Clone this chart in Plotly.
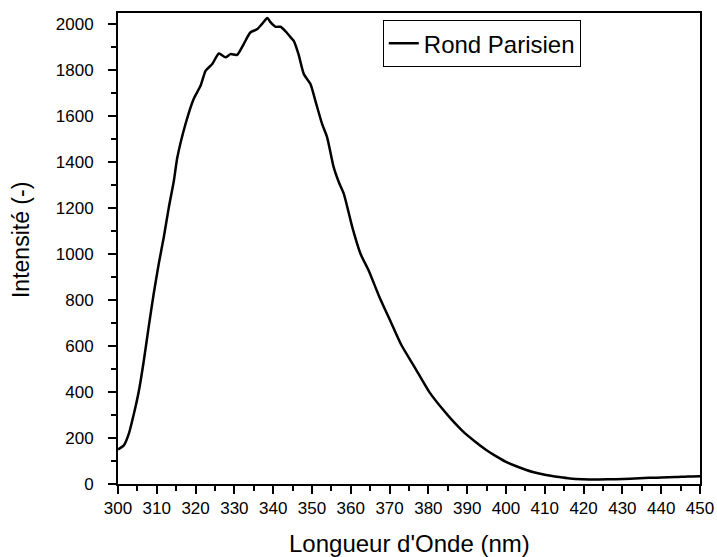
import plotly.graph_objects as go

wavelength = [300, 301.5, 302.8, 304.1, 305.4, 306.6, 307.9, 309.2, 310.5, 311.8, 313.1, 314.4,
              315.3, 317.4, 319.5, 321.3, 322.6, 324.3, 326, 327.7, 329, 330.7, 332.4, 334.1,
              335.9, 337.2, 338.5, 339.3, 340.6, 341.9, 343.2, 344.5, 345.3, 346.5, 347.9, 349.6,
              351, 352.6, 353.9, 355.6, 357, 358.2, 360.4, 362.5, 364.6, 367.4, 370.4, 373,
              376.4, 380.3, 383.7, 386, 388.9, 392, 394.9, 397.5, 400, 403, 406.9, 410,
              413.7, 416.5, 419.7, 424, 428.3, 432, 436.9, 440, 443.7, 447, 450]
intensity = [150, 168, 219, 306, 407, 531, 683, 828, 958, 1074, 1204, 1320,
             1422, 1567, 1676, 1734, 1799, 1828, 1874, 1857, 1871, 1868, 1915, 1965,
             1980, 2004, 2028, 2010, 1990, 1990, 1970, 1944, 1929, 1872, 1784, 1741,
             1660, 1567, 1509, 1378, 1310, 1263, 1117, 1002, 929, 813, 702, 606,
             510, 399, 325, 280, 229, 185, 148, 120, 96, 75, 52, 40,
             30, 24, 21, 20, 21, 23, 27, 28, 30, 33, 34]

series_name = "Rond Parisien"
x_title = "Longueur d'Onde (nm)"
y_title = "Intensité (-)"

FONT = "Liberation Sans, Arial, sans-serif"

fig = go.Figure()
fig.add_trace(go.Scatter(x=wavelength, y=intensity, mode="lines", name=series_name,
                         line=dict(color="black", width=2.5, shape="spline", smoothing=0.6)))

axis_common = dict(
    showgrid=False, zeroline=False, showline=True, linecolor="black", linewidth=2,
    mirror=True, ticks="outside", ticklen=8, tickwidth=2, tickcolor="black",
    tickfont=dict(family=FONT, size=17, color="black"), automargin=False,
)

fig.update_layout(
    width=717, height=557,
    margin=dict(l=118, r=17, t=13, b=73),
    paper_bgcolor="white", plot_bgcolor="white",
    font=dict(family=FONT, color="black"),
    showlegend=True,
    legend=dict(x=0.455, y=0.985, xanchor="left", yanchor="top",
                bordercolor="black", borderwidth=1, bgcolor="white",
                font=dict(family=FONT, size=24, color="black")),
    xaxis=dict(range=[300, 450], dtick=10, tick0=300,
               minor=dict(ticks="outside", ticklen=5, tickwidth=2, tickcolor="black", dtick=5),
               **axis_common),
    yaxis=dict(range=[0, 2050], dtick=200, tick0=0,
               minor=dict(ticks="outside", ticklen=5, tickwidth=2, tickcolor="black", dtick=100),
               ticklabelstandoff=11,
               **axis_common),
    annotations=[
        dict(text=x_title, xref="paper", yref="paper", x=0.5, y=0, xanchor="center",
             yanchor="middle", yshift=-59, showarrow=False,
             font=dict(family=FONT, size=24, color="black")),
        dict(text=y_title, xref="paper", yref="paper", x=0, y=0.518, xanchor="center",
             yanchor="middle", xshift=-97, textangle=-90, showarrow=False,
             font=dict(family=FONT, size=23, color="black")),
    ],
)

# remove the browser's default 8px body margin so the figure fills the window exactly
fig.write_html("out.html", config={"displayModeBar": False},
               post_script="document.body.style.margin='0';document.body.style.overflow='hidden';")
